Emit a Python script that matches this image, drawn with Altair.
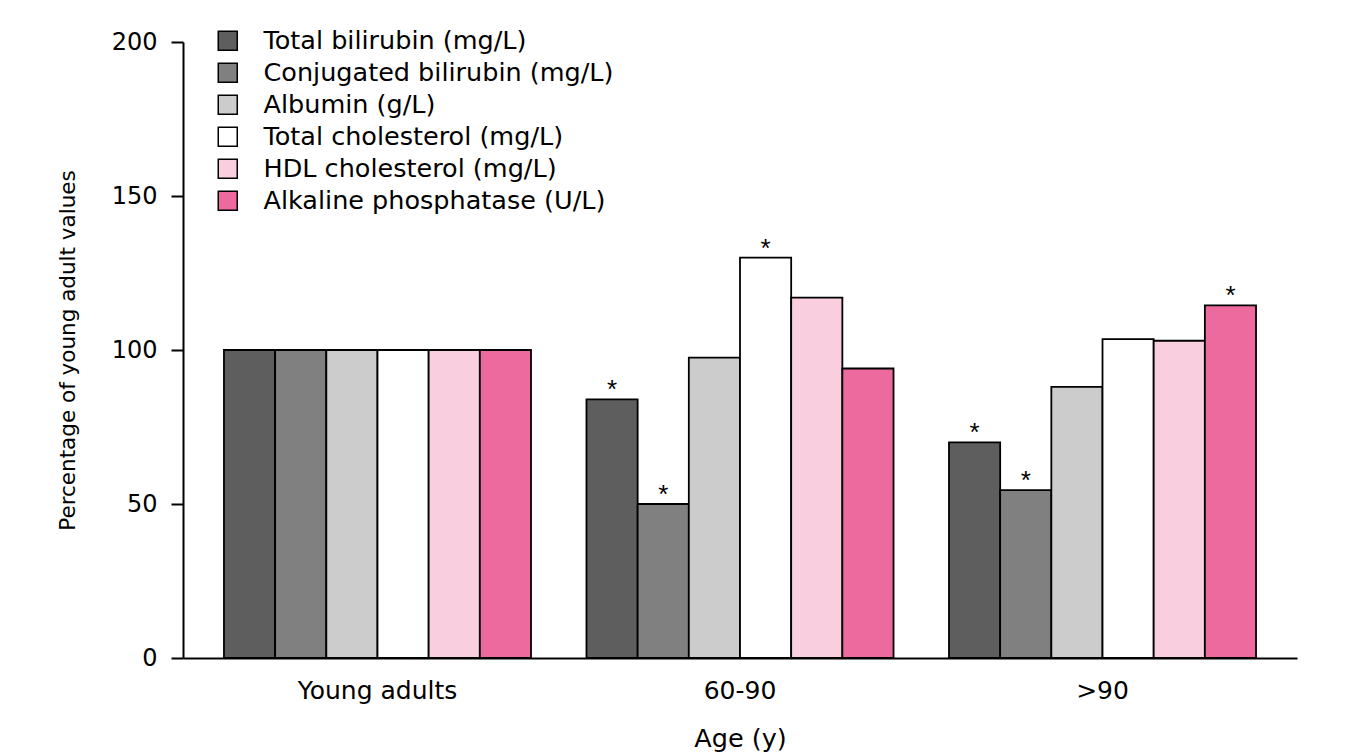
import altair as alt
import pandas as pd

ages = ["Young adults", "60-90", ">90"]
measures = [
    "Total bilirubin (mg/L)",
    "Conjugated bilirubin (mg/L)",
    "Albumin (g/L)",
    "Total cholesterol (mg/L)",
    "HDL cholesterol (mg/L)",
    "Alkaline phosphatase (U/L)",
]
colors = ["#5e5e5e", "#808080", "#cccccc", "#ffffff", "#f9cfdf", "#ec6a9e"]

young_values = [100, 100, 100, 100, 100, 100]
mid_values = [84, 50, 97.5, 130, 117, 94]
old_values = [70, 54.5, 88, 103.5, 103, 114.5]

young_stars = [0, 0, 0, 0, 0, 0]
mid_stars = [1, 1, 0, 1, 0, 0]
old_stars = [1, 1, 0, 0, 0, 1]

rows = []
for age, vals, stars in zip(ages, [young_values, mid_values, old_values],
                            [young_stars, mid_stars, old_stars]):
    for m, v, s in zip(measures, vals, stars):
        rows.append({"Age": age, "Measure": m, "Value": v, "Star": s})
df = pd.DataFrame(rows)

FONT = "DejaVu Sans"

x_enc = alt.X(
    "Age:N", sort=ages,
    scale=alt.Scale(paddingInner=0.153, paddingOuter=0.113),
    axis=alt.Axis(
        title="Age (y)", ticks=False, labelAngle=0, labelPadding=20,
        labelFont=FONT, labelFontSize=25, labelColor="black",
        titleFont=FONT, titleFontSize=25.5, titleFontWeight="normal",
        titleColor="black", titlePadding=23,
        domainColor="black", domainWidth=2,
    ),
)
xoff_enc = alt.XOffset("Measure:N", sort=measures,
                       scale=alt.Scale(paddingInner=0, paddingOuter=0))
y_enc = alt.Y(
    "Value:Q",
    scale=alt.Scale(domain=[0, 200], nice=False),
    axis=alt.Axis(
        values=[0, 50, 100, 150, 200], grid=False, tickSize=12,
        tickColor="black", tickWidth=2, domainColor="black", domainWidth=2,
        labelFont=FONT, labelFontSize=24, labelColor="black", labelPadding=14,
        title="Percentage of young adult values", titleFont=FONT,
        titleFontSize=21.5, titleFontWeight="normal", titleColor="black",
        titleX=-115, titleY=308, titleAngle=-90, titleAlign="center",
        titleBaseline="middle",
    ),
)

bars = alt.Chart(df).mark_bar(stroke="black", strokeWidth=1.8).encode(
    x=x_enc,
    xOffset=xoff_enc,
    y=y_enc,
    fill=alt.Fill(
        "Measure:N", sort=measures,
        scale=alt.Scale(domain=measures, range=colors),
        legend=alt.Legend(
            title=None, orient="none", legendX=32, legendY=-14,
            symbolType="square", symbolSize=361, symbolStrokeColor="black",
            symbolStrokeWidth=1.5, symbolOpacity=1, labelFont=FONT,
            labelFontSize=25.5, labelColor="black", labelOffset=23,
            rowPadding=5, padding=0, labelLimit=600,
        ),
    ),
)

stars = alt.Chart(df).transform_filter(alt.datum.Star == 1).mark_text(
    text="*", font="Liberation Sans", fontSize=26, color="black",
    baseline="alphabetic", dy=-1,
).encode(x=x_enc, xOffset=xoff_enc, y=y_enc)

chart = alt.layer(bars, stars).properties(
    width=1114, height=616,
    autosize=alt.AutoSizeParams(type="none"),
    padding={"left": 183, "top": 42, "right": 73, "bottom": 94},
    background="white",
).configure_view(stroke=None)

chart.save("out.html", embed_options={"renderer": "svg", "actions": False})
